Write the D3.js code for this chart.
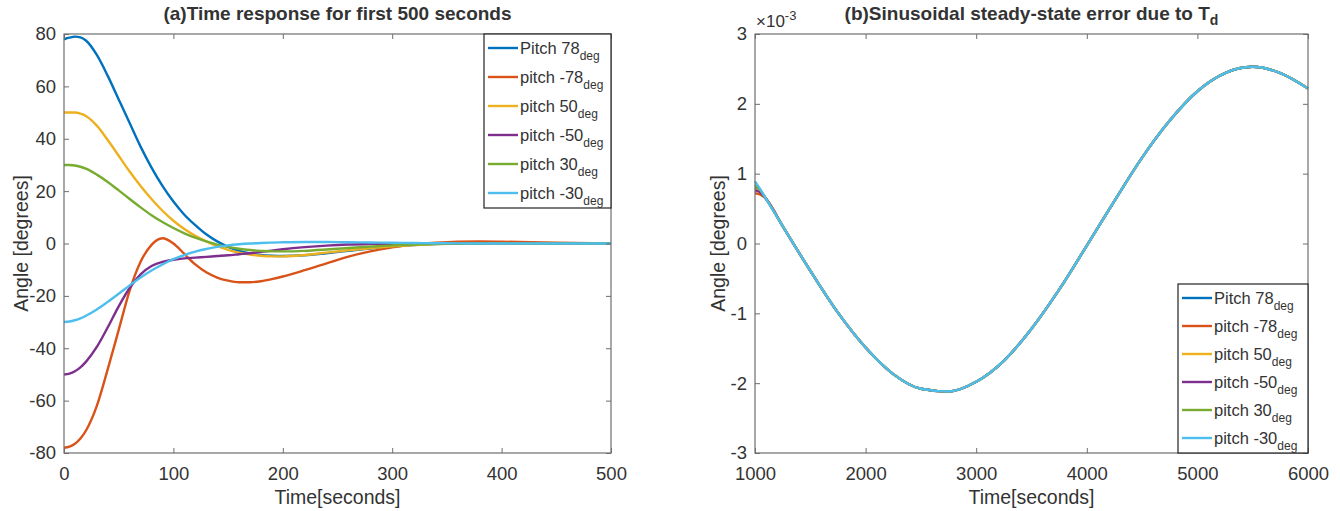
<!DOCTYPE html>
<html lang="en">
<head>
<meta charset="UTF-8">
<title>Pitch response</title>
<script src="https://d3js.org/d3.v7.min.js"></script>
<style>
  body { margin: 0; background: #fff; }
  svg text { font-family: "Liberation Sans", Arial, sans-serif; fill: #333; }
</style>
</head>
<body>
<div id="chart"></div>
<script>
// ---- data: (a) first 500 seconds ----
const timeA = [0, 5, 10, 15, 20, 30, 40, 50, 60, 70, 80, 90, 100, 110, 120, 130, 140, 150, 160, 170, 180, 190, 200, 220, 240, 260, 280, 300, 320, 340, 360, 380, 400, 450, 500];
const pitch78  = [78, 78.6, 79, 78.7, 77.5, 72, 64, 55, 46, 37, 29, 22, 16, 11, 7, 3.5, 0.8, -1.3, -2.8, -3.8, -4.4, -4.7, -4.8, -4.5, -3.7, -2.8, -1.9, -1.2, -0.6, -0.2, 0.1, 0.2, 0.2, 0.1, 0];
const pitchM78 = [-78, -77.6, -76.5, -74.5, -71.5, -62, -48, -33, -18, -7, -0.5, 2, 0, -4, -8, -11, -13, -14.2, -14.8, -14.8, -14.4, -13.6, -12.6, -10.2, -7.6, -5, -3, -1.5, -0.4, 0.3, 0.7, 0.8, 0.7, 0.3, 0.05];
const pitch50  = [50, 50, 50, 49.6, 48.7, 45, 39.5, 33.5, 27.5, 22, 17, 12.5, 8.7, 5.5, 2.9, 0.8, -1, -2.4, -3.5, -4.2, -4.7, -4.9, -4.9, -4.4, -3.5, -2.6, -1.8, -1.1, -0.6, -0.2, 0, 0.1, 0.1, 0.05, 0];
const pitchM50 = [-50, -49.7, -48.8, -47.3, -45.2, -39.5, -32, -24, -17, -11.8, -8.6, -7, -6.2, -5.7, -5.4, -5.1, -4.8, -4.5, -4.1, -3.7, -3.2, -2.7, -2.2, -1.4, -0.8, -0.4, -0.2, -0.1, 0, 0, 0, 0, 0, 0, 0];
const pitch30  = [30, 30, 29.8, 29.3, 28.6, 26.3, 23.5, 20.3, 17, 13.8, 10.8, 8.2, 5.9, 3.9, 2.2, 0.8, -0.4, -1.3, -2, -2.5, -2.8, -3, -3, -2.8, -2.3, -1.7, -1.2, -0.7, -0.4, -0.1, 0, 0, 0, 0, 0];
const pitchM30 = [-30, -29.8, -29.3, -28.6, -27.6, -25.2, -22.3, -19.2, -16, -13, -10.3, -8, -6, -4.4, -3.1, -2.1, -1.3, -0.7, -0.3, 0, 0.2, 0.35, 0.45, 0.55, 0.55, 0.5, 0.4, 0.3, 0.2, 0.1, 0.05, 0, 0, 0, 0];

// ---- data: (b) steady-state error, units of 1e-3 deg ----
const timeB = [1000, 1050, 1100, 1250, 1500, 1750, 2000, 2250, 2500, 2750, 3000, 3250, 3500, 3750, 4000, 4250, 4500, 4750, 5000, 5250, 5500, 5750, 6000];
const errStart = [0.80, 0.72, 0.78, 0.76, 0.84, 0.89];   // value at t=1000 per series
const errNext  = [0.75, 0.70, 0.74, 0.73, 0.76, 0.77];   // value at t=1050 per series
const errTail  = [0.64, 0.25, -0.39, -0.99, -1.49, -1.87, -2.08, -2.12, -1.98, -1.68, -1.22, -0.66, -0.03, 0.61, 1.23, 1.76, 2.18, 2.44, 2.53, 2.44, 2.22];

const names = ["Pitch 78", "pitch -78", "pitch 50", "pitch -50", "pitch 30", "pitch -30"];
const colors = ["#0072BD", "#D95319", "#EDB120", "#7E2F8E", "#77AC30", "#4DBEEE"];
const seriesA = [pitch78, pitchM78, pitch50, pitchM50, pitch30, pitchM30];

const ticksA_x = [0, 100, 200, 300, 400, 500];
const ticksA_y = [-80, -60, -40, -20, 0, 20, 40, 60, 80];
const ticksB_x = [1000, 2000, 3000, 4000, 5000, 6000];
const ticksB_y = [-3, -2, -1, 0, 1, 2, 3];

const W = 1340, H = 511;
const svg = d3.select("#chart").append("svg")
    .attr("width", W).attr("height", H);

const axisColor = "#6e6e6e";

function drawPanel(opt) {
    const x = d3.scaleLinear().domain(opt.xDomain).range([opt.left, opt.right]);
    const y = d3.scaleLinear().domain(opt.yDomain).range([opt.bottom, opt.top]);
    const g = svg.append("g");

    // lines
    const line = d3.line().x(d => x(d[0])).y(d => y(d[1])).curve(d3.curveMonotoneX);
    opt.series.forEach((s, i) => {
        g.append("path")
            .datum(s)
            .attr("d", line)
            .attr("fill", "none")
            .attr("stroke", colors[i])
            .attr("stroke-width", 2.4)
            .attr("stroke-linejoin", "round");
    });

    // axes (ticks inward on all four sides)
    const styleAxis = sel => {
        sel.select(".domain").remove();
        sel.selectAll(".tick line").attr("stroke", axisColor).attr("stroke-width", 1);
        sel.selectAll(".tick text").style("font-size", "18.5px").attr("fill", "#333");
    };
    const fmt = d => String(d);
    g.append("g").attr("transform", `translate(0,${opt.bottom})`)
        .call(d3.axisBottom(x).tickValues(opt.xTicks).tickFormat(fmt).tickSizeInner(-5).tickSizeOuter(0).tickPadding(14))
        .call(styleAxis);
    g.append("g").attr("transform", `translate(0,${opt.top})`)
        .call(d3.axisTop(x).tickValues(opt.xTicks).tickSizeInner(-5).tickSizeOuter(0).tickFormat(""))
        .call(styleAxis);
    g.append("g").attr("transform", `translate(${opt.left},0)`)
        .call(d3.axisLeft(y).tickValues(opt.yTicks).tickFormat(fmt).tickSizeInner(-5).tickSizeOuter(0).tickPadding(8))
        .call(styleAxis);
    g.append("g").attr("transform", `translate(${opt.right},0)`)
        .call(d3.axisRight(y).tickValues(opt.yTicks).tickSizeInner(-5).tickSizeOuter(0).tickFormat(""))
        .call(styleAxis);

    g.append("rect")
        .attr("x", opt.left).attr("y", opt.top)
        .attr("width", opt.right - opt.left).attr("height", opt.bottom - opt.top)
        .attr("fill", "none").attr("stroke", axisColor).attr("stroke-width", 1.2);

    // titles / labels
    const cx = (opt.left + opt.right) / 2;
    const title = g.append("text")
        .attr("x", cx).attr("y", 20)
        .attr("text-anchor", "middle")
        .style("font-size", "19px").style("font-weight", "bold").attr("fill", "#111")
        .text(opt.title);
    if (opt.titleSub) {
        title.append("tspan").attr("dy", 5).style("font-size", "14px").text(opt.titleSub);
    }
    g.append("text")
        .attr("x", cx).attr("y", 504)
        .attr("text-anchor", "middle")
        .style("font-size", "19.5px")
        .text("Time[seconds]");
    g.append("text")
        .attr("transform", `translate(${opt.left - opt.ylabelOffset},${(opt.top + opt.bottom) / 2}) rotate(-90)`)
        .attr("text-anchor", "middle")
        .style("font-size", "19.5px")
        .text("Angle [degrees]");

    // legend
    const lg = g.append("g");
    lg.append("rect")
        .attr("x", opt.legend.x).attr("y", opt.legend.y)
        .attr("width", opt.right - opt.legend.x).attr("height", opt.legend.h)
        .attr("fill", "#fff").attr("stroke", "#222").attr("stroke-width", 1.2);
    names.forEach((n, i) => {
        const ry = opt.legend.y + 14 + i * opt.legend.step;
        lg.append("line")
            .attr("x1", opt.legend.x + 4).attr("x2", opt.legend.x + 34)
            .attr("y1", ry).attr("y2", ry)
            .attr("stroke", colors[i]).attr("stroke-width", 2.4);
        const t = lg.append("text")
            .attr("x", opt.legend.x + 36).attr("y", ry + 6)
            .style("font-size", "16.5px").attr("fill", "#111")
            .text(n);
        t.append("tspan").attr("dy", 6).style("font-size", "12px").text("deg");
    });
    return { x, y, g };
}

// panel (a)
drawPanel({
    left: 64, right: 611, top: 34, bottom: 453,
    xDomain: [0, 500], yDomain: [-80, 80],
    xTicks: ticksA_x, yTicks: ticksA_y,
    series: seriesA.map(s => s.map((v, j) => [timeA[j], v])),
    title: "(a)Time response for first 500 seconds",
    ylabelOffset: 36,
    legend: { x: 484, y: 34, h: 174, step: 29 }
});

// panel (b)
const seriesB = names.map((n, i) =>
    [errStart[i], errNext[i]].concat(errTail).map((v, j) => [timeB[j], v]));
const pb = drawPanel({
    left: 755, right: 1308, top: 34, bottom: 453,
    xDomain: [1000, 6000], yDomain: [-3, 3],
    xTicks: ticksB_x, yTicks: ticksB_y,
    series: seriesB,
    title: "(b)Sinusoidal steady-state error due to T",
    titleSub: "d",
    ylabelOffset: 30,
    legend: { x: 1178, y: 284, h: 169, step: 28 }
});

// exponent label
const ex = pb.g.append("text")
    .attr("x", 756).attr("y", 27)
    .style("font-size", "17px").attr("fill", "#333")
    .text("\u00d710");
ex.append("tspan").attr("dy", -7).style("font-size", "13px").text("-3");
</script>
</body>
</html>
